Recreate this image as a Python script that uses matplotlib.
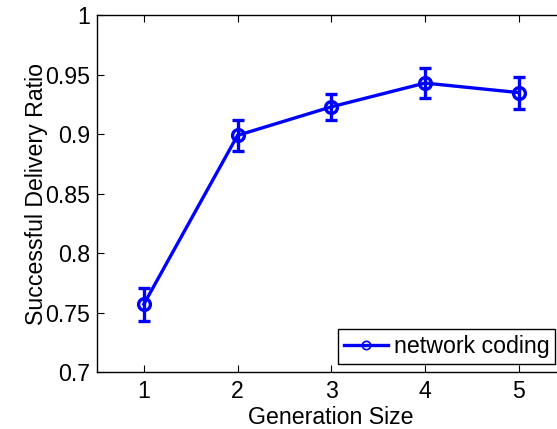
import matplotlib
matplotlib.use("Agg")
import matplotlib.pyplot as plt

plt.rcParams['font.family'] = ['Liberation Sans', 'DejaVu Sans']

# values
gen_size = [1, 2, 3, 4, 5]
ratio = [0.757, 0.899, 0.923, 0.943, 0.935]
ratio_err = [0.014, 0.013, 0.011, 0.0125, 0.0135]
yticks = [0.7, 0.75, 0.8, 0.85, 0.9, 0.95, 1]
ytick_labels = ['0.7', '0.75', '0.8', '0.85', '0.9', '0.95', '1']

fs = 16.7
fig = plt.figure(figsize=(5.57, 4.29), dpi=100)
ax = fig.add_axes([97/557, 57/429, 468.5/557, 356.7/429])

ax.errorbar(gen_size, ratio, yerr=ratio_err, color='#0000ff', lw=2.4,
            marker='o', markersize=8.5, markerfacecolor='none',
            markeredgewidth=2.4, capsize=4.5, capthick=2.4, elinewidth=2.4)

# legend handle is a plain line with a small hollow marker
h, = ax.plot([], [], color='#0000ff', lw=2.4, marker='o', markersize=6,
             markerfacecolor='none', markeredgewidth=1.2)
leg = fig.legend([h], ['network coding'], loc='lower right',
                 bbox_to_anchor=(555/557, 65/429), borderaxespad=0,
                 fontsize=fs, fancybox=False, framealpha=1,
                 edgecolor='black', handlelength=1.9, handletextpad=0.25,
                 borderpad=0.25)
leg.get_frame().set_linewidth(1.0)

ax.set_xlim(0.5, 5.5)
ax.set_ylim(0.7, 1.0)
ax.set_xticks(gen_size)
ax.set_yticks(yticks)
ax.set_yticklabels(ytick_labels)
ax.tick_params(direction='in', length=5, width=0.8, labelsize=fs,
               top=True, right=True, pad=5)
ax.tick_params(axis='x', pad=5.5)
for s in ax.spines.values():
    s.set_linewidth(1.0)

ax.set_xlabel('Generation Size', fontsize=fs)
ax.set_ylabel('Successful Delivery Ratio', fontsize=fs)
ax.xaxis.set_label_coords(0.5, (372 - 406) / 356.7)
ax.yaxis.set_label_coords((48 - 97) / 468.5, 0.5)

fig.savefig('out.png', dpi=100)
